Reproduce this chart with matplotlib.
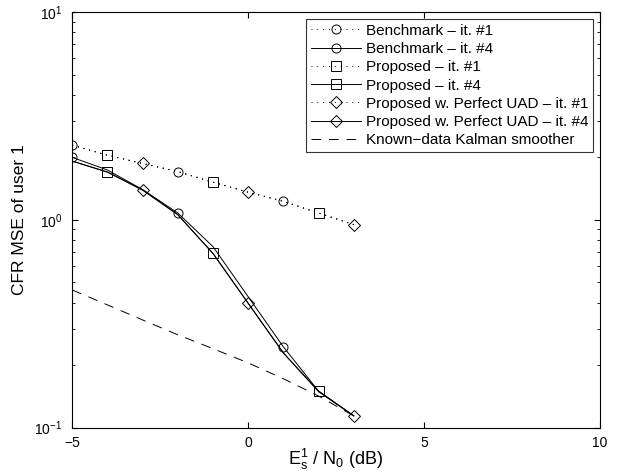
import numpy as np
import matplotlib
matplotlib.use("Agg")
import matplotlib.pyplot as plt

plt.rcParams['font.family'] = ['Liberation Sans', 'DejaVu Sans']
plt.rcParams['mathtext.default'] = 'regular'

snr = [-5, -4, -3, -2, -1, 0, 1, 2, 3]

# iteration #1 curves (they lie almost on top of each other)
bench_it1 = [2.29, 2.05, 1.87, 1.71, 1.52, 1.36, 1.23, 1.08, 0.95]
prop_it1 = [2.29, 2.05, 1.87, 1.71, 1.52, 1.36, 1.23, 1.08, 0.95]
uad_it1 = [2.29, 2.05, 1.87, 1.71, 1.52, 1.36, 1.23, 1.08, 0.95]

# iteration #4 curves
bench_it4 = [2.00, 1.74, 1.40, 1.08, 0.744, 0.427, 0.245, 0.150, 0.114]
prop_it4 = [1.92, 1.70, 1.39, 1.06, 0.69, 0.397, 0.229, 0.150, 0.114]
uad_it4 = [1.92, 1.70, 1.40, 1.06, 0.69, 0.397, 0.229, 0.149, 0.114]

kalman = [0.46, 0.39, 0.33, 0.28, 0.24, 0.205, 0.172, 0.142, 0.114]

labels = ['Benchmark \u2013 it. #1', 'Benchmark \u2013 it. #4',
          'Proposed \u2013 it. #1', 'Proposed \u2013 it. #4',
          'Proposed w. Perfect UAD \u2013 it. #1', 'Proposed w. Perfect UAD \u2013 it. #4',
          'Known\u2212data Kalman smoother']

fig = plt.figure(figsize=(6.23, 4.72), dpi=100)
ax = fig.add_axes([0.116, 0.094, 0.847, 0.880])

dot = (0, (1, 5))
mk = dict(color='k', mfc='none', mec='k', ms=6.5, mew=0.7)
dk = dict(color='k', mfc='none', mec='k', ms=6, mew=0.7)

ax.plot(snr, bench_it1, linestyle=dot, lw=0.7, marker='o', markevery=slice(0, None, 3), label=labels[0], **mk)
ax.plot(snr, bench_it4, '-', lw=0.7, marker='o', markevery=slice(0, None, 3), label=labels[1], **mk)
ax.plot(snr, prop_it1, linestyle=dot, lw=0.7, marker='s', markevery=slice(1, None, 3), label=labels[2], **mk)
ax.plot(snr, prop_it4, '-', lw=0.7, marker='s', markevery=slice(1, None, 3), label=labels[3], **mk)
ax.plot(snr, uad_it1, linestyle=dot, lw=0.7, marker='D', markevery=slice(2, None, 3), label=labels[4], **dk)
ax.plot(snr, uad_it4, '-', lw=0.7, marker='D', markevery=slice(2, None, 3), label=labels[5], **dk)
ax.plot(snr, kalman, color='k', lw=0.7, linestyle=(0, (10, 8)), label=labels[6])

ax.set_yscale('log')
ax.set_xlim(-5, 10)
ax.set_ylim(0.1, 10)
ax.set_xticks([-5, 0, 5, 10])
ax.set_xticklabels(['\u22125', '0', '5', '10'])
ax.tick_params(which='both', direction='in', top=True, right=True, labelsize=10)
ax.tick_params(which='major', length=4)
ax.tick_params(which='minor', length=2)
ax.tick_params(axis='x', pad=6)
ax.tick_params(axis='y', pad=7)
for s in ax.spines.values():
    s.set_linewidth(0.8)

ax.set_xlabel('E$_s^1$ / N$_0$ (dB)', fontsize=13, labelpad=-2)
ax.set_ylabel('CFR MSE of user 1', fontsize=12.5, labelpad=5)

leg = ax.legend(loc='upper right', fontsize=11, frameon=True, fancybox=False,
                edgecolor='k', handlelength=3.3, borderpad=0.3, labelspacing=0.28,
                handletextpad=0.3, borderaxespad=0.45)
leg.get_frame().set_linewidth(0.8)

fig.savefig('out.png', dpi=100)
